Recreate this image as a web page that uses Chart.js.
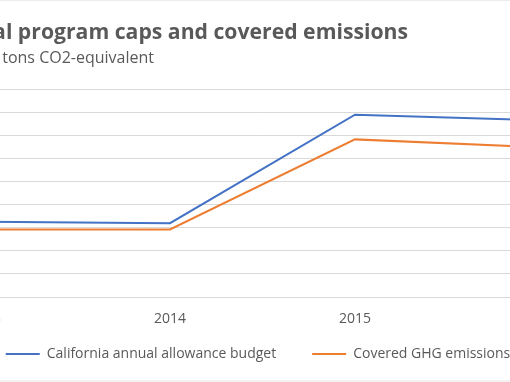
<!DOCTYPE html>
<html>
<head>
<meta charset="utf-8">
<script src="https://cdn.jsdelivr.net/npm/chart.js@4/dist/chart.umd.min.js"></script>
<style>
  html, body { margin: 0; padding: 0; background: #fff; }
  body { width: 510px; height: 382px; overflow: hidden; position: relative; }
  /* the picture is a crop of a wider chart, so the canvas hangs off both sides */
  #wrap { position: absolute; left: -200px; top: 0; width: 860px; height: 382px; }
  .edge { position: absolute; left: 0; width: 510px; background: #ededed; }
</style>
</head>
<body>
<div id="wrap"><canvas id="chart"></canvas></div>
<div class="edge" style="top:0;height:1px"></div>
<div class="edge" style="top:380px;height:2px;background:#f2f2f2"></div>
<script>
// --- Data ---
const TITLE = 'California annual program caps and covered emissions';
const SUBTITLE = 'Million metric tons CO2-equivalent';
const years = ['2013', '2014', '2015', '2016'];
const allowanceBudget = [162.8, 159.7, 394.5, 382.4];
const coveredEmissions = [146, 146, 341, 324];
const yTicks = [0, 50, 100, 150, 200, 250, 300, 350, 400, 450];

const TEXT = '#595959';
const FONT = '"Open Sans", sans-serif';

// title + subtitle, placed by hand because only their right part is in frame
const headerText = {
  id: 'headerText',
  afterLayout(chart) {
    // x axis box is kept short so the legend sits low; don't clip its labels to it
    chart.scales.x._computeLabelArea = () => undefined;
  },
  afterDraw(chart) {
    const ctx = chart.ctx;
    ctx.save();
    ctx.fillStyle = TEXT;
    ctx.textAlign = 'right';
    ctx.textBaseline = 'alphabetic';
    ctx.font = 'bold 21.2px ' + FONT;
    ctx.fillText(TITLE, 608, 39);
    ctx.font = '16px ' + FONT;
    ctx.fillText(SUBTITLE, 354, 63);
    ctx.restore();
  }
};

new Chart(document.getElementById('chart'), {
  type: 'line',
  data: {
    labels: years,
    datasets: [
      {label: 'California annual allowance budget', data: allowanceBudget,
       borderColor: '#4472C4', backgroundColor: '#4472C4', borderWidth: 2, pointRadius: 0, tension: 0},
      {label: 'Covered GHG emissions', data: coveredEmissions,
       borderColor: '#ED7D31', backgroundColor: '#ED7D31', borderWidth: 2, pointRadius: 0, tension: 0}
    ]
  },
  options: {
    responsive: true,
    maintainAspectRatio: false,
    animation: false,
    layout: {padding: {left: 83.5, right: 27.5, top: 89, bottom: 11}},
    scales: {
      x: {
        offset: true,
        afterFit(s) { s.height = 14; },
        grid: {display: false},
        border: {display: false},
        ticks: {color: TEXT, font: {family: FONT, size: 14}, padding: 6}
      },
      y: {
        min: 0, max: 450,
        afterFit(s) { s.width = 9; },
        afterBuildTicks(s) { s.ticks = yTicks.map(v => ({value: v})); },
        grid: {color: '#D9D9D9', lineWidth: 1, drawTicks: false},
        border: {display: false},
        ticks: {color: TEXT, font: {family: FONT, size: 14}, padding: 8, autoSkip: false}
      }
    },
    plugins: {
      legend: {
        position: 'bottom',
        labels: {
          usePointStyle: true, pointStyle: 'line', pointStyleWidth: 34,
          color: TEXT, font: {family: FONT, size: 14}, padding: 36
        }
      },
      tooltip: {enabled: false}
    }
  },
  plugins: [headerText]
});
</script>
</body>
</html>
